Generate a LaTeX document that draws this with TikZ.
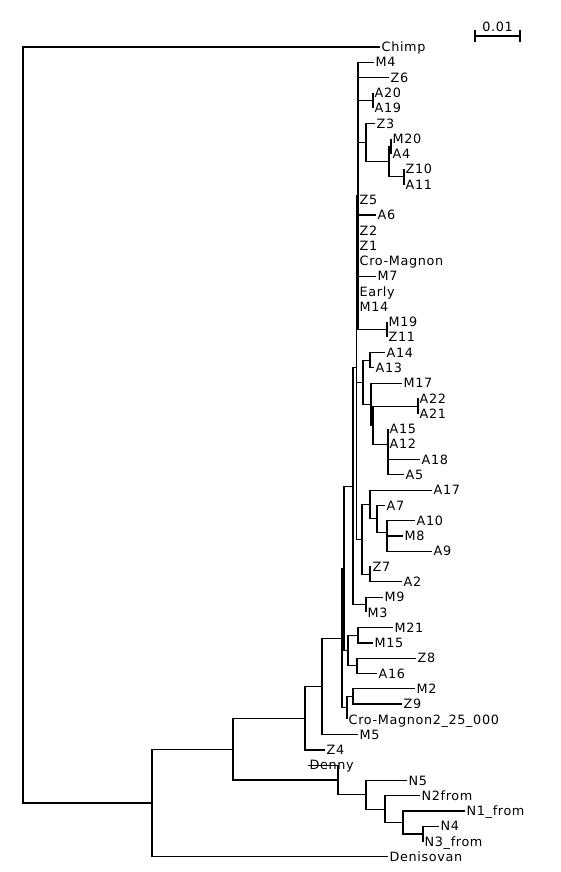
\documentclass[tikz,border=0pt]{standalone}
\usepackage{fontspec}
\newfontfamily\treefont[LetterSpace=5]{DejaVu Sans}
\usetikzlibrary{positioning, calc}

\begin{document}
\begin{tikzpicture}[
    x=1pt, y=-15.28pt,
    branch/.style={line width=1.2pt, black},
    leaf/.style={anchor=west, inner sep=1.5pt, text height=9.3pt, text depth=0pt, font={\fontsize{12.8}{14}\selectfont\treefont}},
    scaletext/.style={inner sep=0pt, text height=9.3pt, text depth=0pt, font={\fontsize{12.8}{14}\selectfont\treefont}},
]
\useasboundingbox (0,-3.076) rectangle (560,53.99);

% Leaves (x = tip, y = row)
\node[leaf] (Chimp) at (380,0) {Chimp};
\node[leaf] (M4) at (374,1) {M4};
\node[leaf] (Z6) at (389,2) {Z6};
\node[leaf] (A20) at (373,3) {A20};
\node[leaf] (A19) at (373,4) {A19};
\node[leaf] (Z3) at (375,5) {Z3};
\node[leaf] (M20) at (391,6) {M20};
\node[leaf] (A4) at (391,7) {A4};
\node[leaf] (Z10) at (404,8) {Z10};
\node[leaf] (A11) at (404,9) {A11};
\node[leaf] (Z5) at (358,10) {Z5};
\node[leaf] (A6) at (376,11) {A6};
\node[leaf] (Z2) at (358,12) {Z2};
\node[leaf] (Z1) at (358,13) {Z1};
\node[leaf] (CroMagnon) at (358,14) {Cro-Magnon};
\node[leaf] (M7) at (376,15) {M7};
\node[leaf] (Early) at (358,16) {Early};
\node[leaf] (M14) at (358,17) {M14};
\node[leaf] (M19) at (387,18) {M19};
\node[leaf] (Z11) at (387,19) {Z11};
\node[leaf] (A14) at (385,20) {A14};
\node[leaf] (A13) at (374,21) {A13};
\node[leaf] (M17) at (402,22) {M17};
\node[leaf] (A22) at (418,23) {A22};
\node[leaf] (A21) at (418,24) {A21};
\node[leaf] (A15) at (388,25) {A15};
\node[leaf] (A12) at (388,26) {A12};
\node[leaf] (A18) at (420,27) {A18};
\node[leaf] (A5) at (404,28) {A5};
\node[leaf] (A17) at (432,29) {A17};
\node[leaf] (A7) at (385,30) {A7};
\node[leaf] (A10) at (415,31) {A10};
\node[leaf] (M8) at (403,32) {M8};
\node[leaf] (A9) at (432,33) {A9};
\node[leaf] (Z7) at (371,34) {Z7};
\node[leaf] (A2) at (402,35) {A2};
\node[leaf] (M9) at (383,36) {M9};
\node[leaf] (M3) at (366,37) {M3};
\node[leaf] (M21) at (393,38) {M21};
\node[leaf] (M15) at (373,39) {M15};
\node[leaf] (Z8) at (416,40) {Z8};
\node[leaf] (A16) at (377,41) {A16};
\node[leaf] (M2) at (415,42) {M2};
\node[leaf] (Z9) at (402,43) {Z9};
\node[leaf] (CroMagnonB) at (347,44) {Cro-Magnon2\_25\_000};
\node[leaf] (M5) at (358,45) {M5};
\node[leaf] (Z4) at (325,46) {Z4};
\node[leaf] (Denny) at (308,47) {Denny};
\node[leaf] (N5) at (407,48) {N5};
\node[leaf] (N2from) at (420,49) {N2from};
\node[leaf] (N1from) at (465,50) {N1\_from};
\node[leaf] (N4) at (439,51) {N4};
\node[leaf] (N3from) at (423,52) {N3\_from};
\node[leaf] (Denisovan) at (388,53) {Denisovan};

% Internal nodes
\coordinate (a20a19) at (373,3.5);
\coordinate (m20a4) at (391,6.5);
\coordinate (z10a11) at (404,8.5);
\coordinate (m20z10) at (389,7.5);
\coordinate (z3) at (366,6.25);
\coordinate (m19z11) at (387,18.5);
\coordinate (V) at (358,9.75);
\coordinate (a14a13) at (370,20.5);
\coordinate (a22a21) at (418,23.5);
\coordinate (a12) at (388,27);
\coordinate (a15) at (388,26);
\coordinate (Y2) at (373,24.75);
\coordinate (Y) at (371,23.375);
\coordinate (X) at (363,21.94);
\coordinate (m8a9) at (387,32.5);
\coordinate (a10) at (387,31.75);
\coordinate (a7) at (377,30.875);
\coordinate (a17) at (370,29.94);
\coordinate (z7a2) at (370,34.5);
\coordinate (W) at (362,32.22);
\coordinate (Q) at (356.5,20.98);
\coordinate (m9m3) at (366,36.5);
\coordinate (P) at (353,28.74);
\coordinate (m21m15) at (358,38.5);
\coordinate (z8a16) at (357,40.5);
\coordinate (T) at (348,39.5);
\coordinate (S) at (344,34.12);
\coordinate (m2z9) at (353,42.5);
\coordinate (U) at (347,43.25);
\coordinate (R) at (342,38.69);
\coordinate (n322) at (322,41.84);
\coordinate (n305) at (305,43.92);
\coordinate (n423) at (423,51.5);
\coordinate (n403) at (403,50.75);
\coordinate (n385) at (385,49.875);
\coordinate (n366) at (366,48.94);
\coordinate (n338) at (338,47.97);
\coordinate (n233) at (233,45.95);
\coordinate (n152) at (152,49.47);
\coordinate (root) at (23,24.74);

% Branches
\draw[branch] (root) |- (Chimp.west) (root) |- (n152);
\draw[branch] (n152) |- (n233) (n152) |- (Denisovan.west);
\draw[branch] (n233) |- (n305) (n233) |- (n338);
\draw[branch] (n305) |- (n322) (n305) |- (Z4.west);
\draw[branch] (n322) |- (R) (n322) |- (M5.west);
\draw[branch] (R) |- (S) (R) |- (U);
\draw[branch] (S) |- (P) (S) |- (T);
\draw[branch] (U) |- (m2z9) (U) |- (CroMagnonB.west);
\draw[branch] (m2z9) |- (M2.west) (m2z9) |- (Z9.west);
\draw[branch] (T) |- (m21m15) (T) |- (z8a16);
\draw[branch] (m21m15) |- (M21.west) (m21m15) |- (M15.west);
\draw[branch] (z8a16) |- (Z8.west) (z8a16) |- (A16.west);
\draw[branch] (P) |- (Q) (P) |- (m9m3);
\draw[branch] (m9m3) |- (M9.west) (m9m3) |- (M3.west);
\draw[branch] (Q) |- (V) (Q) |- (X) (Q) |- (W);
\draw[branch] (V) |- (M4.west) (V) |- (Z6.west) (V) |- (a20a19) (V) |- (z3)
    (V) |- (Z5.west) (V) |- (A6.west) (V) |- (Z2.west) (V) |- (Z1.west)
    (V) |- (CroMagnon.west) (V) |- (M7.west) (V) |- (Early.west)
    (V) |- (M14.west) (V) |- (m19z11);
\draw[branch] (a20a19) |- (A20.west) (a20a19) |- (A19.west);
\draw[branch] (z3) |- (Z3.west) (z3) |- (m20z10);
\draw[branch] (m20z10) |- (m20a4) (m20z10) |- (z10a11);
\draw[branch] (m20a4) |- (M20.west) (m20a4) |- (A4.west);
\draw[branch] (z10a11) |- (Z10.west) (z10a11) |- (A11.west);
\draw[branch] (m19z11) |- (M19.west) (m19z11) |- (Z11.west);
\draw[branch] (X) |- (a14a13) (X) |- (Y);
\draw[branch] (a14a13) |- (A14.west) (a14a13) |- (A13.west);
\draw[branch] (Y) |- (M17.west) (Y) |- (Y2);
\draw[branch] (Y2) |- (a22a21) (Y2) |- (a15);
\draw[branch] (a22a21) |- (A22.west) (a22a21) |- (A21.west);
\draw[branch] (a15) |- (A15.west) (a15) |- (a12);
\draw[branch] (a12) |- (A12.west) (a12) |- (A18.west) (a12) |- (A5.west);
\draw[branch] (W) |- (a17) (W) |- (z7a2);
\draw[branch] (a17) |- (A17.west) (a17) |- (a7);
\draw[branch] (a7) |- (A7.west) (a7) |- (a10);
\draw[branch] (a10) |- (A10.west) (a10) |- (m8a9);
\draw[branch] (m8a9) |- (M8.west) (m8a9) |- (A9.west);
\draw[branch] (z7a2) |- (Z7.west) (z7a2) |- (A2.west);
\draw[branch] (n338) |- (Denny.west) (n338) |- (n366);
\draw[branch] (n366) |- (N5.west) (n366) |- (n385);
\draw[branch] (n385) |- (N2from.west) (n385) |- (n403);
\draw[branch] (n403) |- (N1from.west) (n403) |- (n423);
\draw[branch] (n423) |- (N4.west) (n423) |- (N3from.west);

% Scale bar
\coordinate (sbL) at (475,-0.72);
\coordinate (sbR) at (520,-0.72);
\draw[branch] (sbL) -- (sbR);
\draw[branch] (sbL) ++(0,-0.36) -- ++(0,0.72);
\draw[branch] (sbR) ++(0,-0.36) -- ++(0,0.72);
\node[scaletext, anchor=south, above=4pt of {$(sbL)!0.5!(sbR)$}] (scale) {0.01};

\end{tikzpicture}
\end{document}
